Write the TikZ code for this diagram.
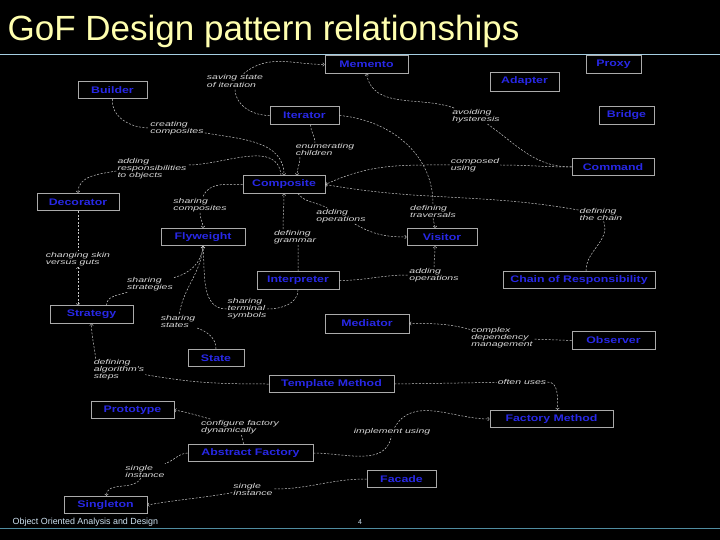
\documentclass[tikz,border=0pt]{standalone}
\usepackage{fontspec}
\setmainfont{Liberation Sans}
\newfontfamily\patfont[FakeStretch=1.3]{Liberation Sans}
\newfontfamily\lblfont[FakeStretch=1.5]{Liberation Sans}
\definecolor{patblue}{RGB}{40,40,230}
\definecolor{boxgray}{RGB}{170,170,170}
\definecolor{lblgray}{RGB}{215,215,215}
\definecolor{linegray}{RGB}{200,200,200}
\definecolor{titleyellow}{RGB}{255,255,175}
\definecolor{titleline}{RGB}{165,205,225}
\definecolor{footline}{RGB}{80,140,160}
\definecolor{foottext}{RGB}{205,225,240}

\begin{document}
\begin{tikzpicture}[x=1pt,y=1pt,
      pat/.style={draw=boxgray,fill=black,line width=0.8pt,text=patblue,font=\patfont\bfseries\fontsize{9.5pt}{10pt}\selectfont,minimum height=17.5pt,inner sep=0pt},
      lbl/.style={text=lblgray,font=\lblfont\itshape\fontsize{7pt}{7pt}\selectfont,align=left,inner sep=1pt},
      rel/.style={draw=linegray,line width=0.5pt,dash pattern=on 2pt off 1.5pt,->}]
      \path[fill=black,use as bounding box] (0,0) rectangle (720,-540);

      \node[anchor=base west,inner sep=0pt,text=titleyellow,font=\fontsize{35pt}{36pt}\selectfont] (title) at (7.5,-40.5) {GoF Design pattern relationships};
      \draw[titleline,line width=0.8pt] (0,-54.5) -- (720,-54.5);
      \draw[footline,line width=1pt] (0,-528) -- (720,-528);
      \node[anchor=base west,inner sep=0pt,text=foottext,font=\fontsize{8.9pt}{9pt}\selectfont] (foot) at (12.5,-524) {Object Oriented Analysis and Design};
      \node[anchor=base,inner sep=0pt,text=foottext,font=\fontsize{7pt}{8pt}\selectfont] (page) at (360,-524) {4};

      \node[pat,minimum width=83pt] (1) at (366.5,-64.5) {Memento};
      \node[pat,minimum width=55pt] (2) at (613.5,-64.5) {Proxy};
      \node[pat,minimum width=69pt,minimum height=19pt] (3) at (524.5,-81.5) {Adapter};
      \node[pat,minimum width=69pt] (4) at (112.5,-90) {Builder};
      \node[pat,minimum width=69pt] (5) at (304.5,-115.5) {Iterator};
      \node[pat,minimum width=55pt] (6) at (626.5,-115.5) {Bridge};
      \node[pat,minimum width=82pt] (7) at (613,-167) {Command};
      \node[pat,minimum width=82pt] (8) at (284,-184.5) {Composite};
      \node[pat,minimum width=82pt] (9) at (78,-202) {Decorator};
      \node[pat,minimum width=84pt] (10) at (203,-237) {Flyweight};
      \node[pat,minimum width=70pt] (11) at (442,-237) {Visitor};
      \node[pat,minimum width=82pt] (12) at (298,-280.5) {Interpreter};
      \node[pat,minimum width=152pt] (13) at (579,-280) {Chain of Responsibility};
      \node[pat,minimum width=83pt] (14) at (91.5,-314.5) {Strategy};
      \node[pat,minimum width=84pt,minimum height=19pt] (15) at (367,-323.5) {Mediator};
      \node[pat,minimum width=83pt] (16) at (613.5,-340.5) {Observer};
      \node[pat,minimum width=56pt] (17) at (216,-358) {State};
      \node[pat,minimum width=125pt] (18) at (331.5,-384) {Template Method};
      \node[pat,minimum width=83pt] (19) at (132.5,-410) {Prototype};
      \node[pat,minimum width=123pt] (20) at (551.5,-419) {Factory Method};
      \node[pat,minimum width=125pt] (21) at (250.5,-453) {Abstract Factory};
      \node[pat,minimum width=69pt] (22) at (401.5,-479) {Facade};
      \node[pat,minimum width=83pt] (23) at (105.5,-505) {Singleton};

      \node[lbl] (a) at (235,-81) {saving state\\of iteration};
      \node[lbl] (b) at (177,-128) {creating\\composites};
      \node[lbl] (c) at (325,-150) {enumerating\\children};
      \node[lbl] (d) at (152,-169) {adding\\responsibilities\\to objects};
      \node[lbl] (e) at (476,-116) {avoiding\\hysteresis};
      \node[lbl] (f) at (475,-165) {composed\\using};
      \node[lbl] (g) at (200,-205) {sharing\\composites};
      \node[lbl] (h) at (341,-216) {adding\\operations};
      \node[lbl] (i) at (295,-237) {defining\\grammar};
      \node[lbl] (j) at (433,-211) {defining\\traversals};
      \node[lbl] (k) at (601,-214) {defining\\the chain};
      \node[lbl] (l) at (434,-275) {adding\\operations};
      \node[lbl] (m) at (78,-259) {changing skin\\versus guts};
      \node[lbl] (n) at (150,-284) {sharing\\strategies};
      \node[lbl] (o) at (178,-321) {sharing\\states};
      \node[lbl] (p) at (247,-309) {sharing\\terminal\\symbols};
      \node[lbl] (q) at (502,-338) {complex\\dependency\\management};
      \node[lbl] (r) at (119,-370) {defining\\algorithm's\\steps};
      \node[lbl] (s) at (522,-382) {often uses};
      \node[lbl] (t) at (240,-427) {configure factory\\dynamically};
      \node[lbl] (u) at (392,-432) {implement using};
      \node[lbl] (v) at (145,-471) {single\\instance};
      \node[lbl] (w) at (253,-489) {single\\instance};

      \draw[rel] (5.west) to[out=180,in=-90] (a) to[out=40,in=180] (1.west);
      \draw[rel] (4.south) to[out=-95,in=180] (b) to[out=-10,in=90] (8.north);
      \draw[rel] ([xshift=6pt]5.south) to[out=-90,in=90] ([xshift=-10pt]c.north) ([xshift=-25pt]c.south) to[out=-90,in=90] ([xshift=13pt]8.north);
      \draw[rel] ([xshift=-3pt]8.north) to[out=95,in=0] ([yshift=4pt]d.east) ([yshift=-2pt]d.west) to[out=190,in=90] (9.north);
      \draw[rel] (7.west) to[out=180,in=-35] (e) to[out=160,in=-80] (1.south);
      \draw[rel] (7.west) to[out=180,in=0] (f) to[out=180,in=25] (8.east);
      \draw[rel] ([xshift=7pt]13.north) to[out=90,in=-70] (k) to[out=170,in=-10] (8.east);
      \draw[rel] (8.west) to[out=180,in=70] (g) to[out=-90,in=90] (10.north);
      \draw[rel] ([xshift=14pt]8.south) to[out=-50,in=150] (h) to[out=-30,in=180] (11.west);
      \draw[rel] (12.north) to[out=90,in=-90] ([xshift=3pt]i.south) ([xshift=-12pt]i.north) to[out=90,in=-90] (8.south);
      \draw[rel] (5.east) to[out=-5,in=90] (j) to[out=-90,in=90] ([xshift=-7pt]11.north);
      \draw[rel] (12.east) to[out=0,in=180] (l) to[out=90,in=-90] ([xshift=-7pt]11.south);
      \draw[rel,<->] (9.south) -- (m) -- ([xshift=-13.5pt]14.north);
      \draw[rel] ([xshift=15pt]14.north) to[out=90,in=200] (n) to[out=15,in=-95] (10.south);
      \draw[rel] (17.north) to[out=90,in=-20] (o) to[out=80,in=-95] (10.south);
      \draw[rel] (12.south) to[out=-90,in=0] (p) to[out=180,in=-85] (10.south);
      \draw[rel] (18.west) to[out=180,in=-10] (r) ([xshift=3pt]r.north west) to[out=95,in=-90] (14.south);
      \draw[rel] (16.west) -- (q) to[out=165,in=0] (15.east);
      \draw[rel] (18.east) -- (s) to[out=0,in=90] ([xshift=6pt]20.north);
      \draw[rel] ([xshift=-7pt]21.north) to[out=90,in=-80] (t) to[out=165,in=-10] (19.east);
      \draw[rel] (21.east) to[out=0,in=-100] (u) to[out=60,in=180] (20.west);
      \draw[rel] (21.west) to[out=185,in=20] (v) to[out=-120,in=90] ([xshift=1pt]23.north);
      \draw[rel] (22.west) to[out=180,in=0] (w) to[out=190,in=10] (23.east);
    \end{tikzpicture}
\end{document}
